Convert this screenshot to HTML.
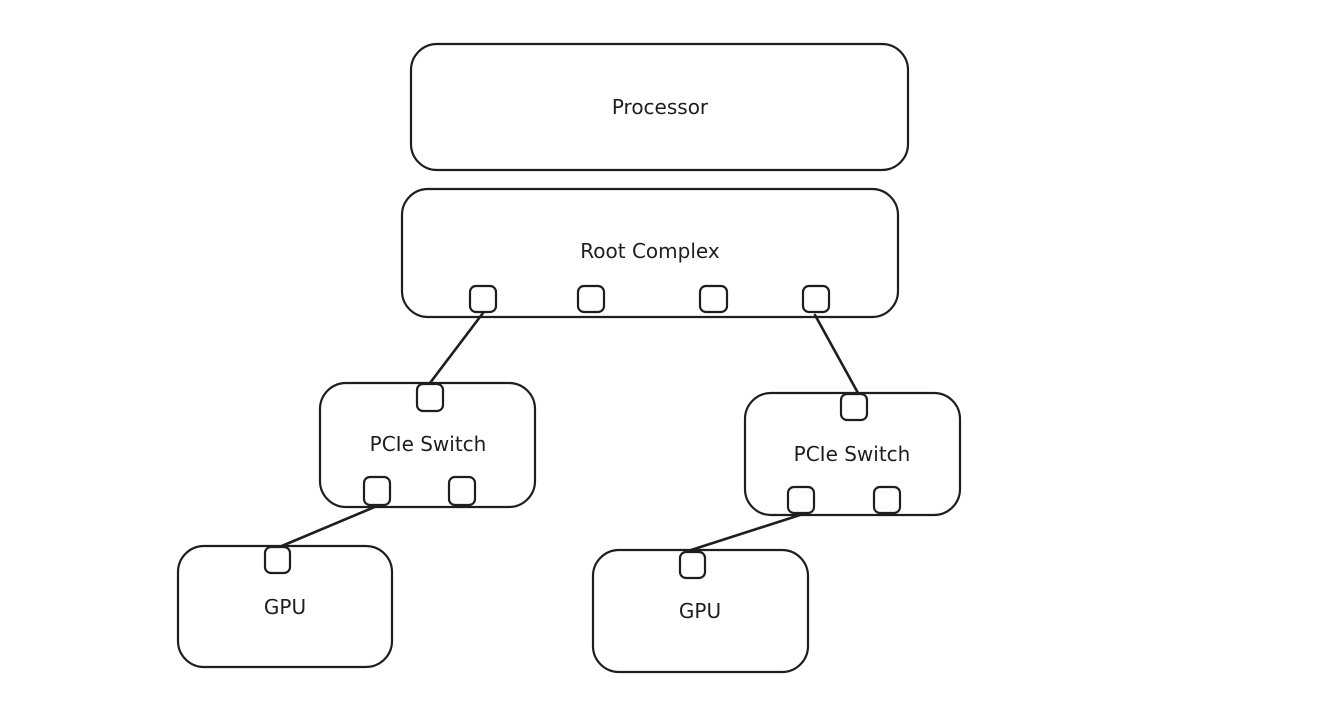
<!DOCTYPE html>
<html><head><style>
html,body{margin:0;padding:0;background:#fff;}
svg{display:block;}
text{font-family:"Comic Sans MS","DejaVu Sans","Liberation Sans",sans-serif;font-size:20px;fill:#1e1e1e;}
</style></head><body>
<svg width="1333" height="703" viewBox="0 0 1333 703">
<g fill="none" stroke="#1e1e1e" stroke-width="2.2" stroke-linecap="round">
<rect x="411" y="44" width="497" height="126" rx="26"/>
<rect x="402" y="189" width="496" height="128" rx="26"/>
<rect x="320" y="383" width="215" height="124" rx="26"/>
<rect x="745" y="393" width="215" height="122" rx="26"/>
<rect x="178" y="546" width="214" height="121" rx="26"/>
<rect x="593" y="550" width="215" height="122" rx="26"/>
<line x1="483" y1="313" x2="430" y2="383" stroke-width="2.6"/>
<line x1="815" y1="315" x2="858" y2="393" stroke-width="2.6"/>
<line x1="377" y1="506" x2="277" y2="548" stroke-width="2.6"/>
<line x1="800" y1="515" x2="688" y2="551" stroke-width="2.6"/>
</g>
<g fill="#fff" stroke="#1e1e1e" stroke-width="2.2">
<rect x="470" y="286" width="26" height="26" rx="6"/>
<rect x="578" y="286" width="26" height="26" rx="6"/>
<rect x="700" y="286" width="27" height="26" rx="6"/>
<rect x="803" y="286" width="26" height="26" rx="6"/>
<rect x="417" y="384" width="26" height="27" rx="6"/>
<rect x="364" y="477" width="26" height="28" rx="6"/>
<rect x="449" y="477" width="26" height="28" rx="6"/>
<rect x="841" y="394" width="26" height="26" rx="6"/>
<rect x="788" y="487" width="26" height="26" rx="6"/>
<rect x="874" y="487" width="26" height="26" rx="6"/>
<rect x="265" y="547" width="25" height="26" rx="6"/>
<rect x="680" y="552" width="25" height="26" rx="6"/>
</g>
<text x="660" y="114" text-anchor="middle">Processor</text>
<text x="650" y="258" text-anchor="middle">Root Complex</text>
<text x="428" y="451" text-anchor="middle">PCIe Switch</text>
<text x="852" y="461" text-anchor="middle">PCIe Switch</text>
<text x="285" y="614" text-anchor="middle">GPU</text>
<text x="700" y="618" text-anchor="middle">GPU</text>
</svg>
</body></html>
